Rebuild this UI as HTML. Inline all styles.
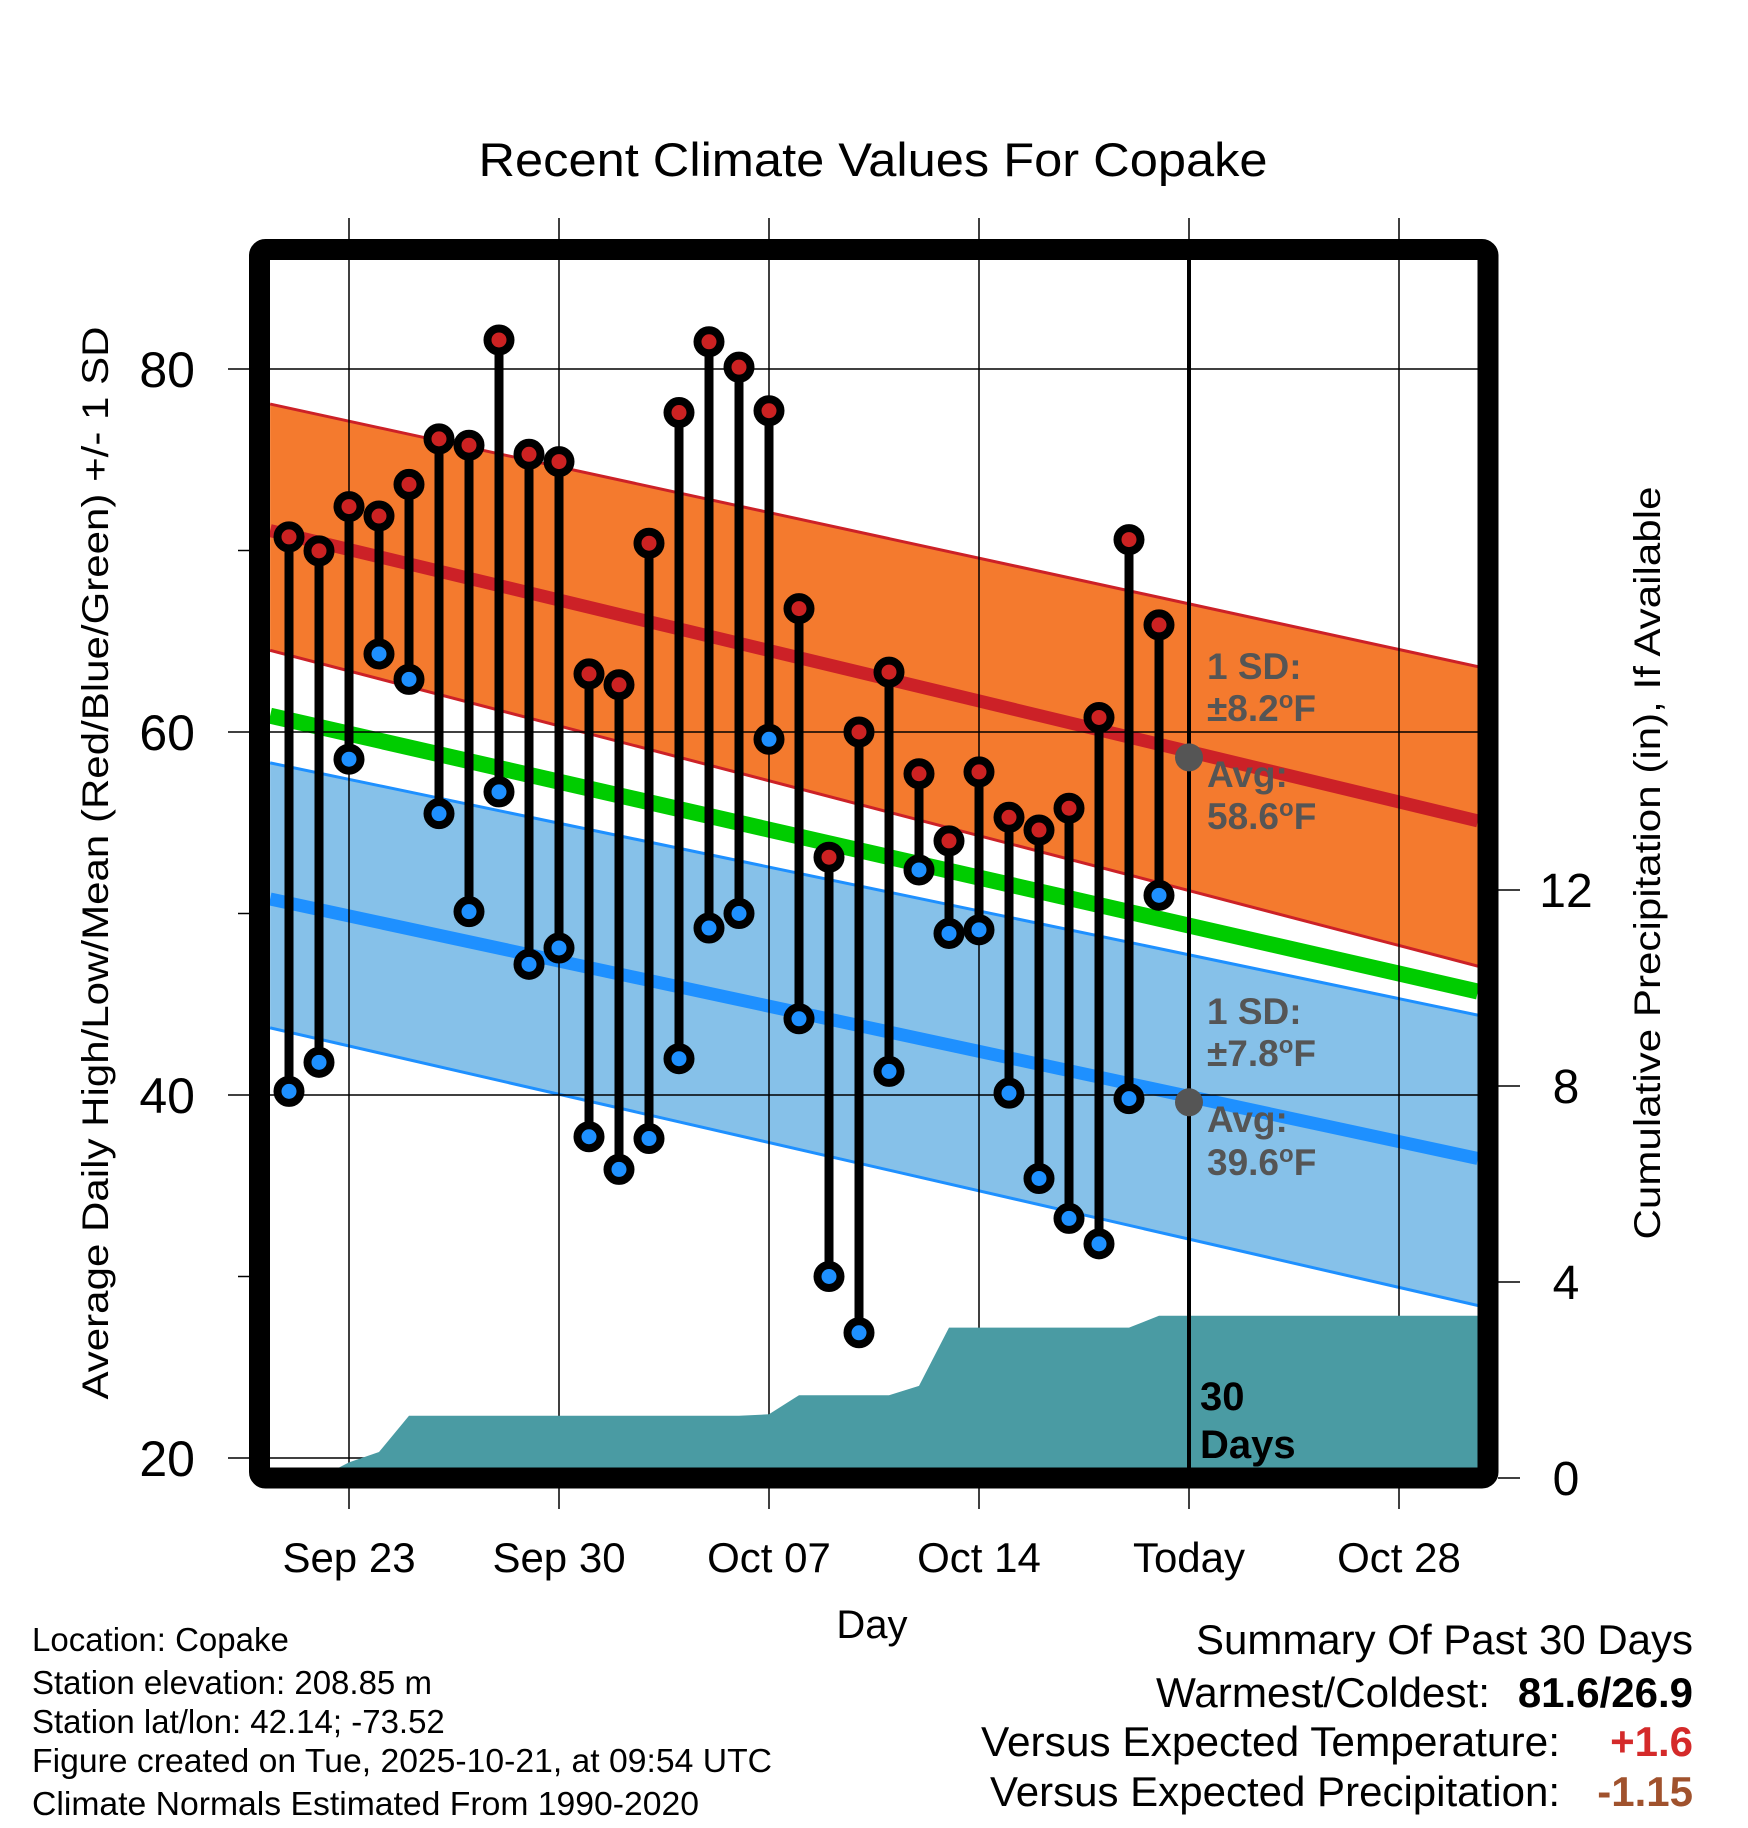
<!DOCTYPE html>
<html><head><meta charset="utf-8"><style>
html,body{margin:0;padding:0;background:#fff;}
svg{display:block;font-family:"Liberation Sans",Arial,sans-serif;}
</style></head><body>
<svg id="chart" width="1748" height="1828" viewBox="0 0 1748 1828" xmlns="http://www.w3.org/2000/svg">
<defs><clipPath id="plotclip"><rect x="270" y="260" width="1208" height="1208"/></clipPath></defs>
<rect width="1748" height="1828" fill="#fff"/>
<g id="plot" clip-path="url(#plotclip)"></g>
<g id="over"></g>
<text x="873" y="176" font-size="47" text-anchor="middle" textLength="789" lengthAdjust="spacingAndGlyphs">Recent Climate Values For Copake</text>
<text transform="translate(108,863) rotate(-90)" font-size="37" text-anchor="middle" textLength="1073" lengthAdjust="spacingAndGlyphs">Average Daily High/Low/Mean (Red/Blue/Green) +/- 1 SD</text>
<text transform="translate(1660,863) rotate(-90)" font-size="37" text-anchor="middle" textLength="753" lengthAdjust="spacingAndGlyphs">Cumulative Precipitation (in), If Available</text>
<text x="872" y="1638" font-size="40" text-anchor="middle">Day</text>
<g font-size="33">
<text x="32" y="1651">Location: Copake</text>
<text x="32" y="1694">Station elevation: 208.85 m</text>
<text x="32" y="1733">Station lat/lon: 42.14; -73.52</text>
<text x="32" y="1772" textLength="740" lengthAdjust="spacingAndGlyphs">Figure created on Tue, 2025-10-21, at 09:54 UTC</text>
<text x="32" y="1815" textLength="667" lengthAdjust="spacingAndGlyphs">Climate Normals Estimated From 1990-2020</text>
</g>
<g font-size="42">
<text x="1693" y="1654" text-anchor="end" textLength="497" lengthAdjust="spacingAndGlyphs">Summary Of Past 30 Days</text>
<text x="1490" y="1707" text-anchor="end" textLength="334" lengthAdjust="spacingAndGlyphs">Warmest/Coldest:</text>
<text x="1693" y="1707" text-anchor="end" font-weight="bold">81.6/26.9</text>
<text x="1560" y="1756" text-anchor="end" textLength="579" lengthAdjust="spacingAndGlyphs">Versus Expected Temperature:</text>
<text x="1693" y="1756" text-anchor="end" font-weight="bold" fill="#d42a2a">+1.6</text>
<text x="1560" y="1806" text-anchor="end" textLength="570" lengthAdjust="spacingAndGlyphs">Versus Expected Precipitation:</text>
<text x="1693" y="1806" text-anchor="end" font-weight="bold" fill="#a0522d">-1.15</text>
</g>
</svg>
<script>
const highs=[70.75,69.98,72.42,71.9,73.64,76.15,75.8,81.6,75.3,74.9,63.2,62.6,70.4,77.6,81.5,80.1,77.7,66.8,53.1,60.0,63.3,57.7,54.0,57.8,55.3,54.6,55.8,60.8,70.6,65.9];
const lows=[40.2,41.8,58.5,64.3,62.9,55.5,50.1,56.7,47.2,48.1,37.7,35.9,37.6,42.0,49.2,50.0,59.6,44.2,30.0,26.9,41.3,52.4,48.9,49.1,40.1,35.4,33.2,31.8,39.8,51.0];
const precipCum=[0,0,0.32,0.53,1.27,1.27,1.27,1.27,1.27,1.27,1.27,1.27,1.27,1.27,1.27,1.27,1.30,1.69,1.69,1.69,1.69,1.88,3.07,3.07,3.07,3.07,3.07,3.07,3.07,3.31];
const normDays=[-0.63,39.63];
const highUpper=[78.07,63.6];
const highMean=[71.1,55.1];
const highLower=[64.5,47.1];
const lowUpper=[58.3,44.4];
const lowMean=[50.8,36.5];
const lowLower=[43.7,28.4];
const meanNorm=[60.9,45.7];
const xTickDays=[2,9,16,23,30,37];
const xTickLabels=["Sep 23","Sep 30","Oct 07","Oct 14","Today","Oct 28"];
const yTicks=[20,40,60,80];
const yMinor=[30,50,70];
const pTicks=[0,4,8,12];
const todayDay=30;
const todayHighAvg=58.6, todayLowAvg=39.6;

const X=d=>289+d*30;
const Y=t=>369+(80-t)*18.15;
const P=p=>1478-p*49;
const NS="http://www.w3.org/2000/svg";
const plot=document.getElementById('plot');
const over=document.getElementById('over');
function mk(tag,attrs,parent){const e=document.createElementNS(NS,tag);for(const k in attrs)e.setAttribute(k,attrs[k]);parent.appendChild(e);return e;}
function pts(arr){return normDays.map((d,i)=>X(d)+','+Y(arr[i])).join(' ');}

let e;
e=mk('polygon',{points:pts(highUpper)+' '+normDays.slice().reverse().map((d,i)=>X(d)+','+Y(highLower[normDays.length-1-i])).join(' '),fill:'#f47a2e'},plot);


e=mk('polygon',{points:pts(lowUpper)+' '+normDays.slice().reverse().map((d,i)=>X(d)+','+Y(lowLower[normDays.length-1-i])).join(' '),fill:'#86c1e9'},plot);


[[highUpper,'#cc2127',3,'high-band-upper'],[highLower,'#cc2127',3,'high-band-lower'],[lowUpper,'#1e90ff',3,'low-band-upper'],[lowLower,'#1e90ff',3,'low-band-lower'],[meanNorm,'#00cc00',16,'normal-mean-line'],[highMean,'#cc2127',13,'normal-high-line'],[lowMean,'#1e90ff',13,'normal-low-line']].forEach(s=>{
  const l=mk('polyline',{points:pts(s[0]),fill:'none',stroke:s[1],'stroke-width':s[2]},plot);
  
  
});
yTicks.forEach(t=>{const g=mk('line',{x1:228,x2:1478,y1:Y(t),y2:Y(t),stroke:'#000','stroke-width':1.5},over);


const lb=mk('text',{x:195,y:Y(t)+18,'font-size':50,'text-anchor':'end'},over);lb.textContent=t;

});
yMinor.forEach(t=>{const g=mk('line',{x1:238,x2:252,y1:Y(t),y2:Y(t),stroke:'#000','stroke-width':1.5},over);

});
xTickDays.forEach((d,i)=>{const g=mk('line',{x1:X(d),x2:X(d),y1:218,y2:1509,stroke:'#000','stroke-width':1.5},over);


const lb=mk('text',{x:X(d),y:1572,'font-size':42,'text-anchor':'middle'},over);lb.textContent=xTickLabels[i];

});
pTicks.forEach(p=>{const g=mk('line',{x1:1498,x2:1520,y1:P(p),y2:P(p),stroke:'#000','stroke-width':1.5},over);


const lb=mk('text',{x:1566,y:P(p)+17,'font-size':48,'text-anchor':'middle'},over);lb.textContent=p;

});
let pp=precipCum.map((p,i)=>X(i)+','+P(p));
const last=precipCum[precipCum.length-1];
const pa=mk('polygon',{points:X(0)+','+P(0)+' '+pp.join(' ')+' '+X(39.7)+','+P(last)+' '+X(39.7)+','+P(0),fill:'#4a9ba3'},over);


pa.setAttribute('clip-path','url(#plotclip)');
const tl=mk('line',{x1:X(todayDay),x2:X(todayDay),y1:260,y2:1470,stroke:'#000','stroke-width':4},over);


const dl=mk('text',{x:1200,y:1410,'font-size':40,'font-weight':'bold'},over);dl.textContent='30';


const dl2=mk('text',{x:1200,y:1458,'font-size':40,'font-weight':'bold'},over);dl2.textContent='Days';


highs.forEach((h,i)=>{const s=mk('line',{x1:X(i),x2:X(i),y1:Y(h),y2:Y(lows[i]),stroke:'#000','stroke-width':9},over);

});
highs.forEach((h,i)=>{
  const c=mk('circle',{cx:X(i),cy:Y(h),r:11.5,fill:'#cc2222',stroke:'#000','stroke-width':8},over);
  
  
  const c2=mk('circle',{cx:X(i),cy:Y(lows[i]),r:11.5,fill:'#1e90ff',stroke:'#000','stroke-width':8},over);
  
  
});
[todayHighAvg,todayLowAvg].forEach(v=>{const c=mk('circle',{cx:X(todayDay),cy:Y(v),r:14,fill:'#555'},over);

});
function ann(y,parts){const t=mk('text',{x:1207,y:y,'font-size':37,'font-weight':'bold',fill:'#555'},over);


parts.forEach(p=>{const ts=mk('tspan',p[1]?{'baseline-shift':'super','font-size':24}:{},t);ts.textContent=p[0];});}
ann(679,[['1 SD:']]);ann(721,[['±8.2'],['o',1],['F']]);
ann(787,[['Avg:']]);ann(829,[['58.6'],['o',1],['F']]);
ann(1024,[['1 SD:']]);ann(1066,[['±7.8'],['o',1],['F']]);
ann(1132,[['Avg:']]);ann(1175,[['39.6'],['o',1],['F']]);
const fr=mk('rect',{x:259.5,y:249.5,width:1228.5,height:1228.5,rx:6,fill:'none',stroke:'#000','stroke-width':21},over);


</script>
</body></html>
